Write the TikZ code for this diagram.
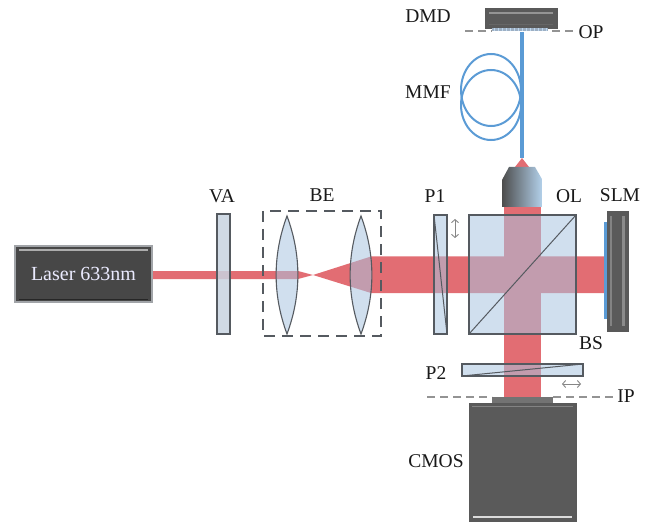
\documentclass[tikz,border=0pt]{standalone}
\usepackage{fontspec}
\setmainfont{Liberation Serif}
\usetikzlibrary{arrows.meta}
\definecolor{beamred}{HTML}{E26D73}
\definecolor{glass}{HTML}{A9C4E0}
\definecolor{edgegray}{HTML}{555A60}
\definecolor{darkbody}{HTML}{5A5A5A}
\definecolor{fiberblue}{HTML}{5B9BD5}
\definecolor{vagray}{HTML}{C8D3E0}
\definecolor{lightol}{HTML}{B4D2EC}
\tikzset{
  beam/.style={fill=beamred,draw=none},
  glassbox/.style={fill=glass,fill opacity=0.55,draw=edgegray,line width=1.1pt},
  thinline/.style={draw=edgegray,line width=1pt},
  dashgray/.style={draw=gray!85,line width=1.2pt,dash pattern=on 8pt off 5pt},
  lab/.style={font=\fontsize{19.5}{20}\selectfont,text=black!90,inner sep=0pt},
  bevel/.style={fill=darkbody,draw=black!65,line width=1.1pt},
  hilite/.style={draw=white!72!gray,line width=2pt},
  smallarrow/.style={draw=gray!95,line width=0.9pt,{Straight Barb[length=3pt,width=7pt]}-{Straight Barb[length=3pt,width=7pt]}},
  fibre/.style={draw=fiberblue,line width=2pt}
}
\begin{document}
\begin{tikzpicture}[x=1pt,y=-1pt]
\useasboundingbox (0,0) rectangle (654,524);
% beams
\path[beam] (152,271) -- (298,271) -- (313,275) -- (371,256.5) -- (604,256.5) -- (604,293) -- (371,293) -- (313,275) -- (298,279) -- (152,279) -- cycle;
\path[beam] (504,207) rectangle (541,397);
\path[beam] (522,158) -- (529,167) -- (515,167) -- cycle;
% fibre
\draw[fibre,line width=3.3pt] (522,32) -- (522,158);
\draw[fibre] (491,90) ellipse [x radius=30,y radius=36];
\draw[fibre] (491,105) ellipse [x radius=30,y radius=35];
% VA
\draw[glassbox,fill=vagray,fill opacity=0.85] (217,214) rectangle (230,334);
% BE
\draw[draw=edgegray,line width=1.2pt,dash pattern=on 11pt off 7pt] (263,211) rectangle (381,336);
\draw[glassbox] (287,216) .. controls (272.5,255) and (272.5,295) .. (287,334) .. controls (301.5,295) and (301.5,255) .. (287,216) -- cycle;
\draw[glassbox] (361,216) .. controls (346.5,255) and (346.5,295) .. (361,334) .. controls (375.5,295) and (375.5,255) .. (361,216) -- cycle;
% P1
\draw[glassbox] (434,215) rectangle (447,334);
\draw[thinline] (434,215) -- (447,334);
\draw[smallarrow] (455,219) -- (455,238);
% BS
\draw[glassbox] (469,215) rectangle (576,334);
\draw[thinline] (469,334) -- (576,215);
% P2
\draw[glassbox] (462,364) rectangle (583,376);
\draw[thinline] (462,376) -- (583,364);
\draw[smallarrow] (562,384) -- (581,384);
% OL
\shade[left color=black!70,middle color=gray!65,right color=lightol] (502,180) -- (509,167) -- (535,167) -- (542.5,180) -- (542.5,207) -- (502,207) -- cycle;
% SLM
\fill[fiberblue] (604,222) rectangle (607,319);
\draw[bevel] (607.5,211.5) rectangle (628,331);
\draw[line width=2.5pt,white!30!darkbody] (623.5,216) -- (623.5,326);
\draw[white!25!darkbody,line width=1.2pt] (611,216) -- (611,326);
% DMD
\draw[bevel] (485.5,8.5) rectangle (557,28);
\draw[line width=2.5pt,white!35!darkbody] (489,13) -- (553,13);
\draw[black!60,line width=1pt] (489,24.5) -- (553,24.5);
% dashed planes
\draw[dashgray] (465,31) -- (492,31);
\draw[dashgray] (552,31) -- (573,31);
\fill[glass!70!gray] (492,28) rectangle (548,31.5);
\foreach \k in {0,...,13}{\draw[white!60!fiberblue,line width=0.5pt] (494+4*\k,28) -- (494+4*\k,31.5);}
\draw[dashgray] (427,397) -- (492,397);
\draw[dashgray] (553,397) -- (617,397);
% CMOS
\fill[gray!90!black] (492,397) rectangle (553,403);
\draw[bevel] (469.5,403.5) rectangle (576,521);
\draw[white!25!darkbody,line width=1pt] (472,406.5) -- (573,406.5);
\draw[hilite] (473,517) -- (572,517);
% laser
\node[fill=black!72,draw=white!45!edgegray,line width=1.2pt,minimum width=137pt,minimum height=56pt,inner sep=0pt,
  text=white!92!blue,font=\fontsize{20}{20}\selectfont] (laser) at (83.5,274) {Laser 633nm};
\draw[line width=2pt,white!35!gray] (19,250) -- (148,250);
\draw[black!85,line width=1pt] (19,299) -- (148,299);
% labels
\node[lab] (ldmd) at (428,16) {DMD};
\node[lab] (lop) at (591,32) {OP};
\node[lab] (lmmf) at (428,92) {MMF};
\node[lab] (lva) at (222,196) {VA};
\node[lab] (lbe) at (322,195) {BE};
\node[lab] (lp1) at (435,196) {P1};
\node[lab] (lol) at (569,196) {OL};
\node[lab] (lslm) at (620,195) {SLM};
\node[lab] (lbs) at (591,343) {BS};
\node[lab] (lp2) at (436,373) {P2};
\node[lab] (lip) at (626,396) {IP};
\node[lab] (lcmos) at (436,461) {CMOS};
\end{tikzpicture}
\end{document}
